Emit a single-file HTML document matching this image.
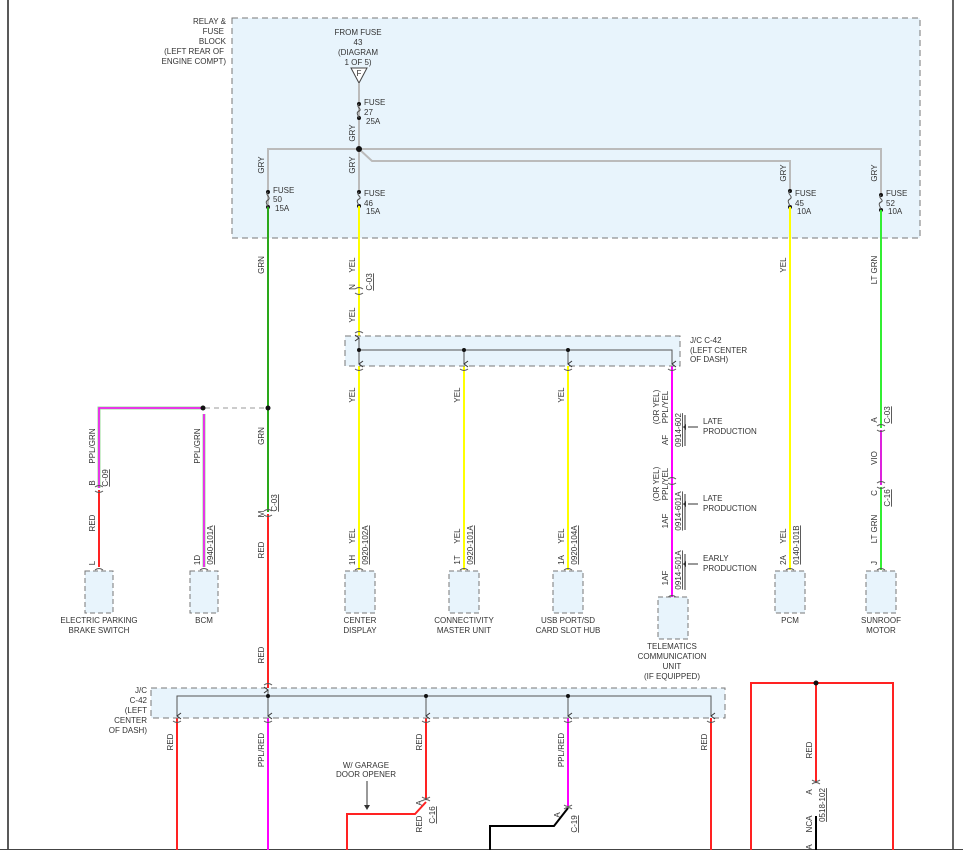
<!DOCTYPE html>
<html><head><meta charset="utf-8"><style>
html,body{margin:0;padding:0;background:#fff;width:963px;height:850px;overflow:hidden}
svg{display:block}
text{font-family:"Liberation Sans",sans-serif;font-size:8px;fill:#333}
</style></head><body>
<svg width="963" height="850" viewBox="0 0 963 850" xmlns="http://www.w3.org/2000/svg">
<defs>
<marker id="ah" markerWidth="8" markerHeight="8" refX="4" refY="7" orient="auto"><path d="M1,3 L4,7 L7,3" fill="none" stroke="#333" stroke-width="1"/></marker>
</defs>
<line x1="8" y1="0" x2="8" y2="850" stroke="#222" stroke-width="1.5"/>
<line x1="953" y1="0" x2="953" y2="850" stroke="#333" stroke-width="1.5"/>
<line x1="0" y1="849.5" x2="963" y2="849.5" stroke="#444" stroke-width="1"/>

<!-- top relay box -->
<rect x="232" y="18" width="688" height="220" fill="#e8f4fc" stroke="#777" stroke-dasharray="6,4"/>
<g text-anchor="end"><text x="226" y="24">RELAY &amp;</text><text x="224" y="34">FUSE</text><text x="226" y="44">BLOCK</text><text x="224" y="54">(LEFT REAR OF</text><text x="226" y="64">ENGINE COMPT)</text></g>
<g text-anchor="middle"><text x="358" y="35">FROM FUSE</text><text x="358" y="45">43</text><text x="358" y="55">(DIAGRAM</text><text x="358" y="65">1 OF 5)</text></g>
<path d="M351,68 L367,68 L359,83 Z" fill="#fff" stroke="#444"/><text x="359" y="76" text-anchor="middle" font-size="7">F</text>

<g stroke="#bbb" stroke-width="2" fill="none">
<path d="M359,83 V148"/><path d="M268,206 V149 H881 V195"/><path d="M359,149 L372,161 H790 V191"/><path d="M359,149 V192"/>
</g>
<g fill="#111">
<circle cx="359" cy="104" r="2"/><circle cx="359" cy="118" r="2"/>
<circle cx="268" cy="192" r="2"/><circle cx="268" cy="207" r="2"/>
<circle cx="359" cy="192" r="2"/><circle cx="359" cy="206" r="2"/>
<circle cx="790" cy="191" r="2"/><circle cx="790" cy="207" r="2"/>
<circle cx="881" cy="195" r="2"/><circle cx="881" cy="210" r="2"/>
<circle cx="359" cy="149" r="3"/>
</g>
<g stroke="#555" fill="none" stroke-width="1">
<path d="M359,104 c-4,3 4,5 0,7 c-4,2 0,5 0,7"/>
<path d="M268,192 c-4,3 4,5 0,8 c-4,2 0,5 0,7"/>
<path d="M359,192 c-4,3 4,5 0,7 c-4,2 0,5 0,7"/>
<path d="M790,191 c-4,3 4,5 0,8 c-4,2 0,5 0,8"/>
<path d="M881,195 c-4,3 4,5 0,7 c-4,2 0,5 0,8"/>
</g>
<text x="364" y="105">FUSE</text><text x="364" y="115">27</text><text x="366" y="124">25A</text>
<text x="273" y="193">FUSE</text><text x="273" y="202">50</text><text x="275" y="211">15A</text>
<text x="364" y="196">FUSE</text><text x="364" y="206">46</text><text x="366" y="214">15A</text>
<text x="795" y="196">FUSE</text><text x="795" y="206">45</text><text x="797" y="214">10A</text>
<text x="886" y="196">FUSE</text><text x="886" y="206">52</text><text x="888" y="214">10A</text>
<g text-anchor="middle">
<text transform="translate(355,133) rotate(-90)">GRY</text>
<text transform="translate(264,165) rotate(-90)">GRY</text>
<text transform="translate(355,165) rotate(-90)">GRY</text>
<text transform="translate(786,173) rotate(-90)">GRY</text>
<text transform="translate(877,173) rotate(-90)">GRY</text>
</g>

<g fill="none" stroke-width="2">
<path d="M268,207 V512" stroke="#2aa81a"/>
<path d="M268,514 V688" stroke="#f22"/>
<path d="M359,206 V336" stroke="#ff0"/>
<path d="M359,366 V570 M464,366 V570 M568,366 V570 M790,207 V570" stroke="#ff0"/>
<path d="M672,366 V597" stroke="#f0f"/>
<path d="M881,210 V428 M881,487 V570" stroke="#3e3"/>
<path d="M881,430 V485" stroke="#d2d"/>
<path d="M99,490 V567" stroke="#f22"/>
<path d="M203,408 H99 V488" stroke="#9d9" stroke-width="3"/>
<path d="M203,408 H99 V488" stroke="#f0f" stroke-width="1.5"/>
<path d="M204,414 V567" stroke="#9d9" stroke-width="3"/>
<path d="M204,414 V567" stroke="#f0f" stroke-width="1.5"/>
<path d="M177,718 V850 M426,718 V800 M711,718 V850" stroke="#f22"/>
<path d="M426,802 L415,814 H347 V850" stroke="#f22"/>
<path d="M268,718 V850 M568,718 V806" stroke="#f0f"/>
<path d="M568,808 L554,826 H490 V850" stroke="#000"/>
<path d="M816,816 V850" stroke="#000"/>
<path d="M751,850 V683 H893 V850 M816,683 V783" stroke="#f22"/>
</g>
<line x1="205" y1="408" x2="266" y2="408" stroke="#999" stroke-dasharray="5,4"/>
<circle cx="203" cy="408" r="2.5" fill="#111"/><circle cx="268" cy="408" r="2.5" fill="#111"/>
<circle cx="816" cy="683" r="2.5" fill="#111"/>

<g fill="none" stroke="#555" stroke-width="1">
<path d="M355,289 q4,-3 8,0 M355,293 q4,3 8,0"/>
<path d="M264,511 q4,-3 8,0 M264,515 q4,3 8,0"/>
<path d="M95,487 q4,-3 8,0 M95,491 q4,3 8,0"/>
<path d="M877,426 q4,-3 8,0 M877,430 q4,3 8,0"/>
<path d="M877,483 q4,-3 8,0 M877,487 q4,3 8,0"/>
<path d="M668,479 q4,-3 8,0 M668,483 q4,3 8,0"/>
<path d="M95,570 q4,-3 8,0 M200,570 q4,-3 8,0 M355,570 q4,-3 8,0 M460,570 q4,-3 8,0 M564,570 q4,-3 8,0 M786,570 q4,-3 8,0 M877,570 q4,-3 8,0 M668,597 q4,-3 8,0"/>
<path d="M355,333 q4,-3 8,0 M264,685 q4,-3 8,0"/>
<path d="M355,369 q4,3 8,0 M460,369 q4,3 8,0 M564,369 q4,3 8,0 M668,369 q4,3 8,0"/>
<path d="M173,721 q4,3 8,0 M264,721 q4,3 8,0 M422,721 q4,3 8,0 M564,721 q4,3 8,0 M707,721 q4,3 8,0"/>
<path d="M422,797 q4,3 8,0 M422,801 q4,-3 8,0"/>
<path d="M564,805 q4,3 8,0 M564,809 q4,-3 8,0"/>
<path d="M812,780 q4,3 8,0 M812,784 q4,-3 8,0"/>
</g>

<rect x="345" y="336" width="335" height="30" fill="#e8f4fc" stroke="#777" stroke-dasharray="6,4"/>
<g stroke="#555" fill="none">
<path d="M359,350 H672 V364" marker-end="url(#ah)"/>
<path d="M359,350 V364" marker-end="url(#ah)"/><path d="M464,350 V364" marker-end="url(#ah)"/><path d="M568,350 V364" marker-end="url(#ah)"/>
<path d="M359,350 V338" marker-end="url(#ah)"/>
</g>
<circle cx="359" cy="350" r="2" fill="#111"/><circle cx="464" cy="350" r="2" fill="#111"/><circle cx="568" cy="350" r="2" fill="#111"/>
<text x="690" y="343">J/C C-42</text><text x="690" y="353">(LEFT CENTER</text><text x="690" y="362">OF DASH)</text>

<rect x="151" y="688" width="574" height="30" fill="#e8f4fc" stroke="#777" stroke-dasharray="6,4"/>
<g stroke="#555" fill="none">
<path d="M177,716 V696 H711 V716" marker-end="url(#ah)"/>
<path d="M177,696 V716" marker-end="url(#ah)"/><path d="M268,696 V716" marker-end="url(#ah)"/><path d="M426,696 V716" marker-end="url(#ah)"/><path d="M568,696 V716" marker-end="url(#ah)"/>
<path d="M268,696 V690" marker-end="url(#ah)"/>
</g>
<circle cx="268" cy="696" r="2" fill="#111"/><circle cx="426" cy="696" r="2" fill="#111"/><circle cx="568" cy="696" r="2" fill="#111"/>
<g text-anchor="end"><text x="147" y="693">J/C</text><text x="147" y="703">C-42</text><text x="147" y="713">(LEFT</text><text x="147" y="723">CENTER</text><text x="147" y="733">OF DASH)</text></g>

<g fill="#e8f4fc" stroke="#777" stroke-dasharray="5,3">
<rect x="85" y="571" width="28" height="42"/><rect x="190" y="571" width="28" height="42"/>
<rect x="345" y="571" width="30" height="42"/><rect x="449" y="571" width="30" height="42"/>
<rect x="553" y="571" width="30" height="42"/><rect x="658" y="597" width="30" height="42"/>
<rect x="775" y="571" width="30" height="42"/><rect x="866" y="571" width="30" height="42"/>
</g>
<g text-anchor="middle">
<text x="99" y="623">ELECTRIC PARKING</text><text x="99" y="633">BRAKE SWITCH</text>
<text x="204" y="623">BCM</text>
<text x="360" y="623">CENTER</text><text x="360" y="633">DISPLAY</text>
<text x="464" y="623">CONNECTIVITY</text><text x="464" y="633">MASTER UNIT</text>
<text x="568" y="623">USB PORT/SD</text><text x="568" y="633">CARD SLOT HUB</text>
<text x="672" y="649">TELEMATICS</text><text x="672" y="659">COMMUNICATION</text><text x="672" y="669">UNIT</text><text x="672" y="679">(IF EQUIPPED)</text>
<text x="790" y="623">PCM</text>
<text x="881" y="623">SUNROOF</text><text x="881" y="633">MOTOR</text>
</g>

<g text-anchor="middle">
<text transform="translate(264,265) rotate(-90)">GRN</text>
<text transform="translate(355,265) rotate(-90)">YEL</text>
<text transform="translate(355,315) rotate(-90)">YEL</text>
<text transform="translate(355,287) rotate(-90)">N</text>
<text transform="translate(786,265) rotate(-90)">YEL</text>
<text transform="translate(877,270) rotate(-90)">LT GRN</text>
<text transform="translate(95,446) rotate(-90)">PPL/GRN</text>
<text transform="translate(200,446) rotate(-90)">PPL/GRN</text>
<text transform="translate(264,436) rotate(-90)">GRN</text>
<text transform="translate(95,483) rotate(-90)">B</text>
<text transform="translate(95,523) rotate(-90)">RED</text>
<text transform="translate(95,563) rotate(-90)">L</text>
<text transform="translate(200,560) rotate(-90)">1D</text>
<text transform="translate(264,514) rotate(-90)">M</text>
<text transform="translate(264,550) rotate(-90)">RED</text>
<text transform="translate(264,655) rotate(-90)">RED</text>
<text transform="translate(355,395) rotate(-90)">YEL</text>
<text transform="translate(460,395) rotate(-90)">YEL</text>
<text transform="translate(564,395) rotate(-90)">YEL</text>
<text transform="translate(355,536) rotate(-90)">YEL</text>
<text transform="translate(460,536) rotate(-90)">YEL</text>
<text transform="translate(564,536) rotate(-90)">YEL</text>
<text transform="translate(355,560) rotate(-90)">1H</text>
<text transform="translate(460,560) rotate(-90)">1T</text>
<text transform="translate(564,560) rotate(-90)">1A</text>
<text transform="translate(786,536) rotate(-90)">YEL</text>
<text transform="translate(786,560) rotate(-90)">2A</text>
<text transform="translate(877,420) rotate(-90)">A</text>
<text transform="translate(877,458) rotate(-90)">VIO</text>
<text transform="translate(877,493) rotate(-90)">C</text>
<text transform="translate(877,529) rotate(-90)">LT GRN</text>
<text transform="translate(877,563) rotate(-90)">J</text>
<text transform="translate(659,407) rotate(-90)">(OR YEL)</text>
<text transform="translate(668,407) rotate(-90)">PPL/YEL</text>
<text transform="translate(668,440) rotate(-90)">AF</text>
<text transform="translate(659,484) rotate(-90)">(OR YEL)</text>
<text transform="translate(668,484) rotate(-90)">PPL/YEL</text>
<text transform="translate(668,521) rotate(-90)">1AF</text>
<text transform="translate(668,578) rotate(-90)">1AF</text>
<text transform="translate(173,742) rotate(-90)">RED</text>
<text transform="translate(264,750) rotate(-90)">PPL/RED</text>
<text transform="translate(422,742) rotate(-90)">RED</text>
<text transform="translate(564,750) rotate(-90)">PPL/RED</text>
<text transform="translate(707,742) rotate(-90)">RED</text>
<text transform="translate(812,750) rotate(-90)">RED</text>
<text transform="translate(422,803) rotate(-90)">A</text>
<text transform="translate(422,824) rotate(-90)">RED</text>
<text transform="translate(560,815) rotate(-90)">A</text>
<text transform="translate(812,792) rotate(-90)">A</text>
<text transform="translate(812,824) rotate(-90)">NCA</text>
<text transform="translate(812,847) rotate(-90)">A</text>
</g>
<g text-anchor="middle">
<text transform="translate(372,282) rotate(-90)" text-decoration="underline">C-03</text>
<text transform="translate(108,478) rotate(-90)" text-decoration="underline">C-09</text>
<text transform="translate(277,503) rotate(-90)" text-decoration="underline">C-03</text>
<text transform="translate(890,415) rotate(-90)" text-decoration="underline">C-03</text>
<text transform="translate(890,498) rotate(-90)" text-decoration="underline">C-16</text>
<text transform="translate(213,545) rotate(-90)" text-decoration="underline">0940-101A</text>
<text transform="translate(368,545) rotate(-90)" text-decoration="underline">0920-102A</text>
<text transform="translate(473,545) rotate(-90)" text-decoration="underline">0920-101A</text>
<text transform="translate(577,545) rotate(-90)" text-decoration="underline">0920-104A</text>
<text transform="translate(799,545) rotate(-90)" text-decoration="underline">0140-101B</text>
<text transform="translate(681,430) rotate(-90)" text-decoration="underline">0914-602</text>
<text transform="translate(681,511) rotate(-90)" text-decoration="underline">0914-601A</text>
<text transform="translate(681,570) rotate(-90)" text-decoration="underline">0914-501A</text>
<text transform="translate(435,815) rotate(-90)" text-decoration="underline">C-16</text>
<text transform="translate(577,824) rotate(-90)" text-decoration="underline">C-19</text>
<text transform="translate(825,805) rotate(-90)" text-decoration="underline">0518-102</text>
</g>
<g stroke="#333"><line x1="685" y1="415" x2="685" y2="446"/><line x1="685" y1="494" x2="685" y2="530"/><line x1="685" y1="554" x2="685" y2="590"/></g>
<g stroke="#333"><line x1="698" y1="427" x2="688" y2="427"/><line x1="698" y1="504" x2="688" y2="504"/><line x1="698" y1="564" x2="688" y2="564"/></g>
<path d="M686,424 l-3,3 l3,3z M686,501 l-3,3 l3,3z M686,561 l-3,3 l3,3z" fill="#333"/>
<text x="703" y="424">LATE</text><text x="703" y="434">PRODUCTION</text>
<text x="703" y="501">LATE</text><text x="703" y="511">PRODUCTION</text>
<text x="703" y="561">EARLY</text><text x="703" y="571">PRODUCTION</text>
<text x="366" y="768" text-anchor="middle">W/ GARAGE</text><text x="366" y="777" text-anchor="middle">DOOR OPENER</text>
<line x1="367" y1="781" x2="367" y2="809" stroke="#333"/><path d="M364,805 l3,5 l3,-5z" fill="#333"/>
</svg>
</body></html>
